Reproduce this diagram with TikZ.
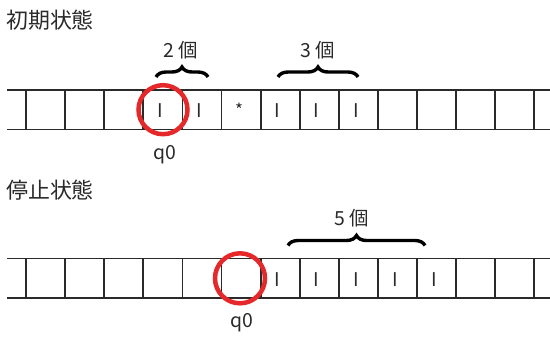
\documentclass[tikz,border=0pt]{standalone}
\usepackage{fontspec}
\setmainfont{Noto Sans CJK JP}
\usetikzlibrary{decorations.pathreplacing}
\definecolor{ink}{HTML}{2A2A2A}
\definecolor{ring}{HTML}{E5282A}
\tikzset{
  tapeline/.style={draw=ink, line width=1.8bp},
  title/.style={anchor=west, inner sep=0, text=ink, font=\fontsize{22}{25}\selectfont},
  lbl/.style={inner sep=0, text=ink, font=\fontsize{19.5}{23}\selectfont},
  sym/.style={inner sep=0, text=ink, font=\fontsize{19}{22}\selectfont},
  ringc/.style={draw=ring, line width=4.5bp},
  bracec/.style={draw=black, line width=3.4bp, decorate, decoration={brace, amplitude=10bp}}
}
\begin{document}
\begin{tikzpicture}[x=1bp, y=-1bp]
\useasboundingbox (0,0) rectangle (550,336);
% titles
\node[title] (t1) at (6,20) {初期状態};
\node[title] (t2) at (6,190) {停止状態};
% tapes
\foreach \yt/\yb in {90/129.5, 258.5/297.8} {
  \draw[tapeline] (7,\yt) -- (550,\yt);
  \draw[tapeline] (7,\yb) -- (550,\yb);
  \foreach \k in {0,...,13} {
    \draw[tapeline] ({26+39.1*\k},\yt) -- ({26+39.1*\k},\yb);
  }
}
% top tape symbols (cell k center = 45.55+39.1k)
\node[sym] (a3) at ({45.55+39.1*3-2.5},111) {I};
\node[sym] (a4) at ({45.55+39.1*4-2.5},111) {I};
\node[inner sep=0, text=ink, font=\fontsize{17}{19}\selectfont] (a5) at ({45.55+39.1*5-2},110) {*};
\node[sym] (a6) at ({45.55+39.1*6-2.5},111) {I};
\node[sym] (a7) at ({45.55+39.1*7-2.5},111) {I};
\node[sym] (a8) at ({45.55+39.1*8-2.5},111) {I};
% bottom tape symbols
\foreach \k in {6,...,10} {
  \node[sym] (b\k) at ({45.55+39.1*\k-2.5},279.5) {I};
}
% heads
\node[ringc, circle, minimum size=49bp, inner sep=0] (h1) at (163,109.7) {};
\node[ringc, circle, minimum size=50bp, inner sep=0] (h2) at (240,278.3) {};
\node[lbl] (q1) at (164.5,155) {q0};
\node[lbl] (q2) at (242,323) {q0};
% braces
\coordinate (c1a) at (156,77);
\coordinate (c1b) at (208,77);
\coordinate (c2a) at (278,77);
\coordinate (c2b) at (358,77);
\coordinate (c3a) at (288,245.5);
\coordinate (c3b) at (425,245.5);
\draw[bracec] (c1a) -- (c1b);
\draw[bracec] (c2a) -- (c2b);
\draw[bracec] (c3a) -- (c3b);
\node[lbl] (n1) at (181,50) {2 個};
\node[lbl] (n2) at (318,50) {3 個};
\node[lbl] (n3) at (352,218) {5 個};
\end{tikzpicture}
\end{document}
